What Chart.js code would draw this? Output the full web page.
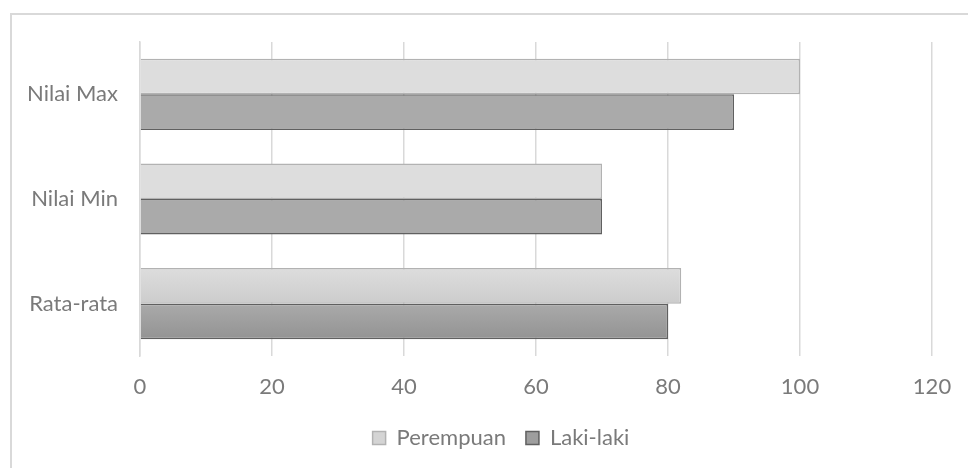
<!DOCTYPE html>
<html>
<head>
<meta charset="utf-8">
<script src="https://cdn.jsdelivr.net/npm/chart.js@4/dist/chart.umd.min.js"></script>
<style>
  html, body { margin: 0; padding: 0; background: #fff; overflow: hidden; }
  #wrap { position: relative; width: 968px; height: 468px; }
  #frame { position: absolute; left: 10px; top: 13px; width: 1000px; height: 500px;
           border-left: 2px solid #d9d9d9; border-top: 2px solid #d9d9d9; }
  canvas { position: absolute; left: 0; top: 0; }
</style>
</head>
<body>
<div id="wrap">
  <div id="frame"></div>
  <canvas id="chart" width="968" height="468"></canvas>
</div>
<script>
// --- Data ---
const categories = ['Nilai Max', 'Nilai Min', 'Rata-rata'];
const perempuan = [100, 70, 82];
const lakiLaki = [90, 70, 80];
const xTicks = [0, 20, 40, 60, 80, 100, 120];

const textColor = '#7a7a7a';
const gridColor = '#d9d9d9';
const fontSize = 22;

// vertical gradient inside each bar, like the office chart style
const barGradient = {
  id: 'barGradient',
  beforeDatasetsDraw(chart) {
    const ctx = chart.ctx;
    const stops = [['#dddddd', '#cccccc'], ['#aaaaaa', '#939393']];
    chart.data.datasets.forEach((ds, i) => {
      const meta = chart.getDatasetMeta(i);
      meta.data.forEach(bar => {
        const top = bar.y - bar.height / 2;
        const g = ctx.createLinearGradient(0, top, 0, top + bar.height);
        g.addColorStop(0, stops[i][0]);
        g.addColorStop(1, stops[i][1]);
        bar.options.backgroundColor = g;
      });
    });
  }
};

// the original legend sits a little right of the canvas centre
const legendShift = {
  id: 'legendShift',
  afterLayout(chart) {
    chart.legend.left += 17;
    chart.legend.right += 17;
  }
};

new Chart(document.getElementById('chart'), {
  type: 'bar',
  data: {
    labels: categories,
    datasets: [
      {
        label: 'Perempuan',
        data: perempuan,
        backgroundColor: '#d4d4d4',
        borderColor: '#b2b2b2',
        borderWidth: 1.5,
        borderSkipped: 'start',
        barPercentage: 1,
        categoryPercentage: 0.68
      },
      {
        label: 'Laki-laki',
        data: lakiLaki,
        backgroundColor: '#9e9e9e',
        borderColor: '#606060',
        borderWidth: 1.5,
        borderSkipped: 'start',
        barPercentage: 1,
        categoryPercentage: 0.68
      }
    ]
  },
  options: {
    indexAxis: 'y',
    responsive: false,
    animation: false,
    devicePixelRatio: 1,
    layout: { padding: { left: 0, top: 42, right: 0, bottom: 9 } },
    scales: {
      x: {
        min: 0,
        max: 120,
        afterBuildTicks: axis => { axis.ticks = xTicks.map(v => ({ value: v })); },
        afterFit: axis => {
          axis.height = 51;
          axis.paddingLeft = 0;
          axis.paddingRight = 36;
        },
        grid: { color: gridColor, lineWidth: 1.5, drawTicks: false },
        border: { display: false },
        ticks: { color: textColor, padding: 18, font: { family: 'Lato', size: fontSize } }
      },
      y: {
        afterFit: axis => { axis.width = 140; },
        grid: { display: false, drawTicks: false },
        border: { display: true, color: gridColor, width: 1.5 },
        ticks: { color: textColor, padding: 22, font: { family: 'Lato', size: fontSize } }
      }
    },
    plugins: {
      legend: {
        position: 'bottom',
        labels: {
          color: textColor,
          boxWidth: 13,
          boxHeight: 13,
          padding: 20,
          font: { family: 'Lato', size: fontSize }
        }
      },
      tooltip: { enabled: false }
    }
  },
  plugins: [barGradient, legendShift]
});
</script>
</body>
</html>
